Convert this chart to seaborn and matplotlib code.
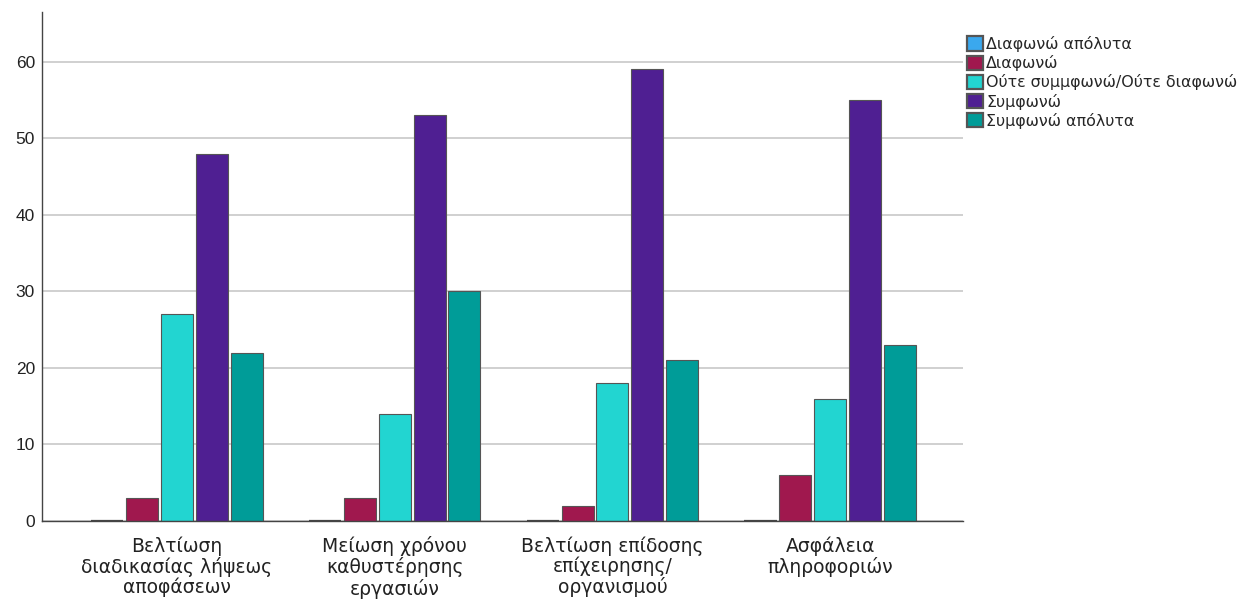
import matplotlib
matplotlib.use("Agg")
import matplotlib.pyplot as plt
import seaborn as sns
import pandas as pd

categories = [
    "Βελτίωση\nδιαδικασίας λήψεως\nαποφάσεων",
    "Μείωση χρόνου\nκαθυστέρησης\nεργασιών",
    "Βελτίωση επίδοσης\nεπίχειρησης/\nοργανισμού",
    "Ασφάλεια\nπληροφοριών",
]
responses = [
    "Διαφωνώ απόλυτα",
    "Διαφωνώ",
    "Ούτε συμμφωνώ/Ούτε διαφωνώ",
    "Συμφωνώ",
    "Συμφωνώ απόλυτα",
]
disagree_strongly = [0, 0, 0, 0]
disagree = [3, 3, 2, 6]
neutral = [27, 14, 18, 16]
agree = [48, 53, 59, 55]
agree_strongly = [22, 30, 21, 23]
colors = ["#3AA8EE", "#A0184E", "#22D5D1", "#4F1F92", "#009C98"]
y_ticks = [0, 10, 20, 30, 40, 50, 60]

series = [disagree_strongly, disagree, neutral, agree, agree_strongly]
rows = []
for resp, vals in zip(responses, series):
    for cat, v in zip(categories, vals):
        rows.append({"category": cat, "response": resp, "count": v})
df = pd.DataFrame(rows)

sns.set_style("white")
plt.rcParams["font.family"] = ["Liberation Sans", "DejaVu Sans"]

fig = plt.figure(figsize=(12.58, 6.05), dpi=100)
ax = fig.add_axes([42 / 1258, 84 / 605, (963 - 42) / 1258, (521 - 12) / 605])

sns.barplot(
    data=df, x="category", y="count", hue="response",
    order=categories, hue_order=responses, palette=colors,
    width=0.8, gap=0.08, edgecolor="#555555", linewidth=0.8,
    saturation=1, ax=ax, errorbar=None,
)

# zero-height bars still show as a dark stroke on the baseline
for p in ax.patches:
    if p.get_height() == 0:
        p.set_linewidth(1.6)
        p.set_edgecolor("#444444")

ax.set_ylim(0, 66.5)
ax.set_xlim(-0.62, 3.61)
ax.set_yticks(y_ticks)
ax.yaxis.grid(True, color="#c8c8c8", linewidth=1.2)
ax.set_axisbelow(True)
ax.set_xlabel("")
ax.set_ylabel("")
for s in ["top", "right"]:
    ax.spines[s].set_visible(False)
for s in ["left", "bottom"]:
    ax.spines[s].set_color("#444444")
    ax.spines[s].set_linewidth(1.0)
ax.tick_params(axis="both", length=0, colors="#222222")
ax.tick_params(axis="y", labelsize=12.5, pad=5)
ax.tick_params(axis="x", pad=11)
for lab in ax.get_xticklabels():
    lab.set_fontfamily("DejaVu Sans")
    lab.set_fontsize(13.5)
    lab.set_linespacing(1.07)

leg = ax.legend(
    loc="upper left", bbox_to_anchor=(967 / 1258, 1 - 36 / 605),
    bbox_transform=fig.transFigure, frameon=False,
    prop={"family": "DejaVu Sans", "size": 11.4},
    handlelength=1.0, handleheight=1.0, handletextpad=0.2,
    labelspacing=0.2, borderaxespad=0, borderpad=0,
)
for h in leg.legend_handles:
    h.set_edgecolor("#555555")

fig.savefig("out.png", dpi=100)
